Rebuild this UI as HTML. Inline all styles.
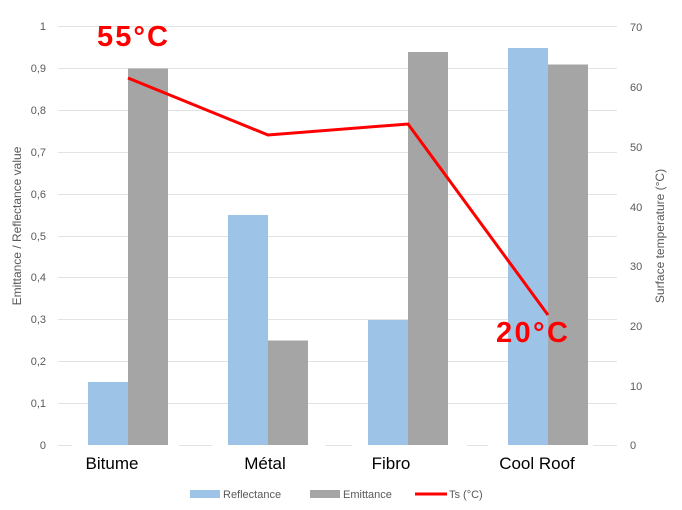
<!DOCTYPE html>
<html><head><meta charset="utf-8"><style>body{margin:0;background:#fff}svg{display:block}</style></head><body>
<svg width="682" height="510" xmlns="http://www.w3.org/2000/svg" font-family="Liberation Sans, sans-serif">
<g stroke="#e3e3e3" stroke-width="1">
<line x1="58" x2="617" y1="26.5" y2="26.5"/><line x1="58" x2="617" y1="68.5" y2="68.5"/><line x1="58" x2="617" y1="110.5" y2="110.5"/><line x1="58" x2="617" y1="152.5" y2="152.5"/><line x1="58" x2="617" y1="194.5" y2="194.5"/><line x1="58" x2="617" y1="236.5" y2="236.5"/><line x1="58" x2="617" y1="277.5" y2="277.5"/><line x1="58" x2="617" y1="319.5" y2="319.5"/><line x1="58" x2="617" y1="361.5" y2="361.5"/><line x1="58" x2="617" y1="403.5" y2="403.5"/>
<line x1="58" x2="72" y1="445.5" y2="445.5"/><line x1="179" x2="212" y1="445.5" y2="445.5"/><line x1="325" x2="352" y1="445.5" y2="445.5"/><line x1="467" x2="488" y1="445.5" y2="445.5"/><line x1="593" x2="617" y1="445.5" y2="445.5"/>
</g>
<g fill="#9dc3e6">
<rect x="88" y="382" width="40" height="63"/><rect x="228" y="215" width="40" height="230"/><rect x="368" y="320" width="40" height="125"/><rect x="508" y="48" width="40" height="397"/>
</g>
<g fill="#a5a5a5">
<rect x="128" y="68.5" width="40" height="376.5"/><rect x="268" y="340.5" width="40" height="104.5"/><rect x="408" y="52" width="40" height="393"/><rect x="548" y="64.5" width="40" height="380.5"/>
</g>
<polyline points="128,78 268,135 408,124 548,315" fill="none" stroke="#f00" stroke-width="3"/>
<g fill="#595959" font-size="11" text-anchor="end">
<text x="46" y="30">1</text><text x="46" y="72">0,9</text><text x="46" y="114">0,8</text><text x="46" y="156">0,7</text><text x="46" y="198">0,6</text><text x="46" y="240">0,5</text><text x="46" y="281">0,4</text><text x="46" y="323">0,3</text><text x="46" y="365">0,2</text><text x="46" y="407">0,1</text><text x="46" y="449">0</text>
</g>
<g fill="#595959" font-size="11">
<text x="630" y="31">70</text><text x="630" y="91">60</text><text x="630" y="151">50</text><text x="630" y="211">40</text><text x="630" y="270">30</text><text x="630" y="330">20</text><text x="630" y="390">10</text><text x="630" y="449">0</text>
</g>
<text transform="translate(21,226) rotate(-90)" text-anchor="middle" fill="#595959" font-size="12">Emittance / Reflectance value</text>
<text transform="translate(664,236) rotate(-90)" text-anchor="middle" fill="#595959" font-size="12">Surface temperature (°C)</text>
<g fill="#000" font-size="17" text-anchor="middle">
<text x="112" y="469">Bitume</text><text x="265" y="469">Métal</text><text x="391" y="469">Fibro</text><text x="537" y="469">Cool Roof</text>
</g>
<text x="97" y="46" fill="#f00" font-size="29" font-weight="bold" textLength="71" lengthAdjust="spacing">55°C</text>
<text x="496" y="342" fill="#f00" font-size="29" font-weight="bold" textLength="72" lengthAdjust="spacing">20°C</text>
<g font-size="11" fill="#595959">
<rect x="190" y="490" width="30" height="8" fill="#9dc3e6"/><text x="223" y="498">Reflectance</text>
<rect x="310" y="490" width="30" height="8" fill="#a5a5a5"/><text x="343" y="498">Emittance</text>
<line x1="415" x2="447" y1="494" y2="494" stroke="#f00" stroke-width="3"/><text x="449" y="498">Ts (°C)</text>
</g>
</svg>
</body></html>
